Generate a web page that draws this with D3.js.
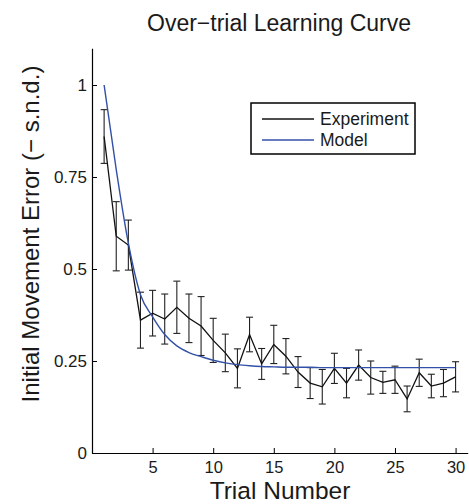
<!DOCTYPE html>
<html>
<head>
<meta charset="utf-8">
<script src="https://cdn.jsdelivr.net/npm/d3@7"></script>
<style>
  html, body { margin: 0; padding: 0; background: #fff; }
  svg { display: block; font-family: "Liberation Sans", Arial, Helvetica, sans-serif; }
</style>
</head>
<body>
<svg id="chart" width="469" height="504"></svg>
<script>
// ---- data ----
const trials = d3.range(1, 31);
const experimentMean = [0.86, 0.589, 0.565, 0.361, 0.38, 0.364, 0.396, 0.366, 0.345, 0.306,
                        0.272, 0.23, 0.322, 0.242, 0.295, 0.263, 0.22, 0.19, 0.18, 0.23,
                        0.19, 0.239, 0.205, 0.192, 0.199, 0.147, 0.218, 0.182, 0.19, 0.207];
const experimentErr  = [0.073, 0.094, 0.068, 0.076, 0.062, 0.068, 0.071, 0.066, 0.08, 0.06,
                        0.051, 0.053, 0.047, 0.042, 0.052, 0.048, 0.042, 0.042, 0.047, 0.041,
                        0.04, 0.041, 0.045, 0.03, 0.037, 0.035, 0.037, 0.032, 0.037, 0.041];
const modelValues    = [1.0, 0.77, 0.57, 0.43, 0.37, 0.322, 0.291, 0.273, 0.262, 0.252,
                        0.245, 0.24, 0.237, 0.235, 0.234, 0.233, 0.233, 0.233, 0.232, 0.232,
                        0.232, 0.232, 0.232, 0.232, 0.232, 0.232, 0.232, 0.232, 0.232, 0.232];
const xTicks = [5, 10, 15, 20, 25, 30];
const yTicks = [0, 0.25, 0.5, 0.75, 1];
const yTickLabels = ["0", "0.25", "0.5", "0.75", "1"];
const seriesNames = ["Experiment", "Model"];
const seriesColors = ["#111111", "#3350a8"];

// ---- layout ----
const svg = d3.select("#chart");
const padL = 92, padB = 453, padR = 467.7, padT = 48.2;
const x = d3.scaleLinear().domain([0, 31]).range([padL, padR]);
const y = d3.scaleLinear().domain([0, 1.1]).range([padB, padT]);
const textColor = "#1a1a1a";

// axes
const xAxis = d3.axisBottom(x).tickValues(xTicks).tickSizeInner(-5).tickSizeOuter(0).tickPadding(8);
const gx = svg.append("g").attr("transform", `translate(0,${padB})`).call(xAxis);
gx.select(".domain").attr("stroke", "#000").attr("stroke-width", 1.2);
gx.selectAll(".tick line").attr("stroke", "#000");
gx.selectAll(".tick text").attr("font-size", 16.5).attr("fill", textColor)
  .attr("font-family", "Liberation Sans, Arial, sans-serif");

const yAxis = d3.axisLeft(y).tickValues(yTicks).tickFormat((d, i) => yTickLabels[i])
  .tickSizeInner(-5).tickSizeOuter(0).tickPadding(5);
const gy = svg.append("g").attr("transform", `translate(${padL},0)`).call(yAxis);
gy.select(".domain").attr("stroke", "#000").attr("stroke-width", 1.2);
gy.selectAll(".tick line").attr("stroke", "#000");
gy.selectAll(".tick text").attr("font-size", 17).attr("fill", textColor)
  .attr("font-family", "Liberation Sans, Arial, sans-serif");

// error bars
const expData = trials.map((t, i) => ({t, m: experimentMean[i], e: experimentErr[i]}));
const eb = svg.append("g").attr("stroke", "#222").attr("stroke-width", 1.1).attr("fill", "none");
expData.forEach(d => {
  const cx = x(d.t), y1 = y(d.m + d.e), y2 = y(d.m - d.e), cw = 3.5;
  eb.append("line").attr("x1", cx).attr("x2", cx).attr("y1", y1).attr("y2", y2);
  eb.append("line").attr("x1", cx - cw).attr("x2", cx + cw).attr("y1", y1).attr("y2", y1);
  eb.append("line").attr("x1", cx - cw).attr("x2", cx + cw).attr("y1", y2).attr("y2", y2);
});

// experiment line
const line = d3.line().x(d => x(d[0])).y(d => y(d[1]));
svg.append("path")
  .datum(trials.map((t, i) => [t, experimentMean[i]]))
  .attr("d", line).attr("fill", "none")
  .attr("stroke", seriesColors[0]).attr("stroke-width", 1.3);

// model line
const smooth = d3.line().x(d => x(d[0])).y(d => y(d[1])).curve(d3.curveMonotoneX);
svg.append("path")
  .datum(trials.map((t, i) => [t, modelValues[i]]))
  .attr("d", smooth).attr("fill", "none")
  .attr("stroke", seriesColors[1]).attr("stroke-width", 1.4);

// title
svg.append("text").attr("x", 279).attr("y", 31).attr("text-anchor", "middle")
  .attr("font-size", 23).attr("fill", textColor).text("Over\u2212trial Learning Curve");

// axis labels
svg.append("text").attr("x", 280).attr("y", 499).attr("text-anchor", "middle")
  .attr("font-size", 24.5).attr("fill", textColor).text("Trial Number");
svg.append("text").attr("transform", "translate(39,234) rotate(-90)").attr("text-anchor", "middle")
  .attr("font-size", 24).attr("fill", textColor).text("Initial Movement Error (\u2212 s.n.d.)");

// legend
const lg = svg.append("g");
lg.append("rect").attr("x", 251).attr("y", 103).attr("width", 164).attr("height", 51)
  .attr("fill", "#fff").attr("stroke", "#000").attr("stroke-width", 1.5);
const rowsY = [119, 140];
seriesNames.forEach((name, i) => {
  lg.append("line").attr("x1", 262).attr("x2", 314).attr("y1", rowsY[i]).attr("y2", rowsY[i])
    .attr("stroke", seriesColors[i]).attr("stroke-width", 1.3);
  lg.append("text").attr("x", 320).attr("y", rowsY[i] + 6).attr("font-size", 17.5)
    .attr("fill", textColor).text(name);
});
</script>
</body>
</html>
